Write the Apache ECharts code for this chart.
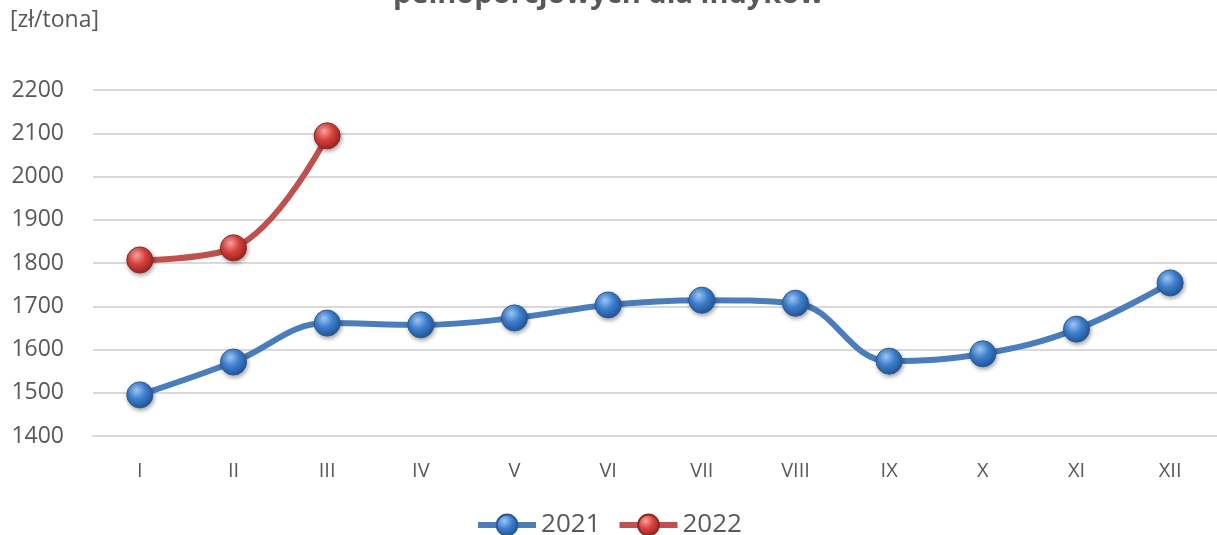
<!DOCTYPE html>
<html><head><meta charset="utf-8">
<script src="https://cdn.jsdelivr.net/npm/echarts@6/dist/echarts.min.js"></script>
<style>html,body{margin:0;padding:0;background:#fff}#c{width:1217px;height:535px}</style>
</head><body><div id="c"></div>
<script>
const categories = ['I','II','III','IV','V','VI','VII','VIII','IX','X','XI','XII'];
const values2021 = [1495,1571,1661,1657,1673,1703,1714,1707,1573,1590,1647,1754];
const values2022 = [1807,1835,2094];
const seriesNames = ['2021','2022'];
const titleText = 'pełnoporcjowych dla indyków';
const unitText = '[zł/tona]';

const font = '"Open Sans", "Liberation Sans", sans-serif';
function sphere(light, mid, dark){
  return {type:'radial', x:0.38, y:0.32, r:0.75, colorStops:[
    {offset:0,color:light},{offset:0.45,color:mid},{offset:1,color:dark}]};
}
const chart = echarts.init(document.getElementById('c'));
chart.setOption({
  animation:false,
  backgroundColor:'#fff',
  graphic:[
    {type:'text', left:'center', top:-20, style:{text:titleText, font:'bold 29px '+font, fill:'#595959'}},
    {type:'text', left:10, top:9, style:{text:unitText, font:'23px '+font, fill:'#595959'}}
  ],
  legend:{bottom:-8, left:'center', itemWidth:58, itemHeight:26, itemGap:16,
    textStyle:{fontSize:26, color:'#595959', fontFamily:font},
    lineStyle:{width:6},
    data:seriesNames},
  grid:{left:93, right:-6, top:90, bottom:99},
  xAxis:{type:'category', data:categories, boundaryGap:true,
    axisLine:{lineStyle:{color:'#d9d9d9', width:2}}, axisTick:{show:false},
    axisLabel:{color:'#595959', fontSize:20, fontFamily:font, margin:25}},
  yAxis:{type:'value', min:1400, max:2200, interval:100,
    axisLine:{show:false}, axisTick:{show:false},
    splitLine:{lineStyle:{color:'#d9d9d9', width:2}},
    axisLabel:{color:'#595959', fontSize:23, fontFamily:font, margin:29, formatter:function(v){return String(v);}}},
  series:[
    {name:seriesNames[0], type:'line', smooth:0.4, data:values2021, symbol:'circle', symbolSize:26,
     lineStyle:{color:'#4a7ebb', width:6},
     itemStyle:{color:sphere('#9cc7f5','#3d7fcf','#1f4e8c'), borderColor:'#2a5a96', borderWidth:1,
       shadowColor:'rgba(0,0,0,0.35)', shadowBlur:4, shadowOffsetX:1, shadowOffsetY:2}},
    {name:seriesNames[1], type:'line', smooth:0.4, data:values2022, symbol:'circle', symbolSize:26,
     lineStyle:{color:'#c0504d', width:6},
     itemStyle:{color:sphere('#f7a3a0','#d9413b','#8e1f1c'), borderColor:'#8a2a27', borderWidth:1,
       shadowColor:'rgba(0,0,0,0.35)', shadowBlur:4, shadowOffsetX:1, shadowOffsetY:2}}
  ]
});
</script></body></html>
